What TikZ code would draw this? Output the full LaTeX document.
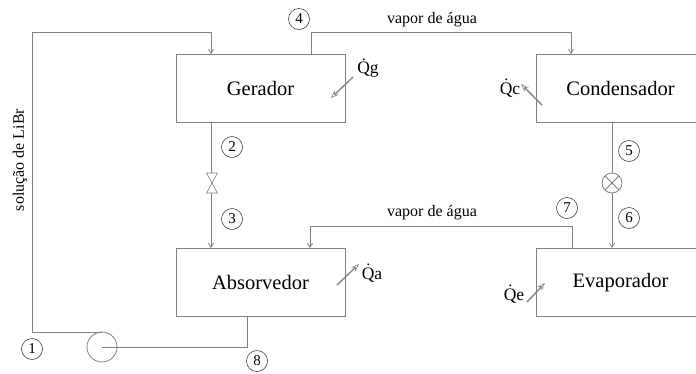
\documentclass[tikz,border=0pt]{standalone}
\usepackage{fontspec}
\setmainfont{Liberation Serif}
\usetikzlibrary{arrows.meta,calc}
\begin{document}
\begin{tikzpicture}[x=1pt,y=-1pt,
  line/.style={draw=black!50, line width=0.8pt},
  box/.style={line, rectangle, minimum width=169pt, minimum height=68pt, inner sep=0pt, outer sep=0pt, font=\fontsize{20.5}{24}\selectfont},
  num/.style={draw=black!75, fill=white, circle, line width=0.6pt, minimum size=21pt, inner sep=0pt, font=\fontsize{15}{18}\selectfont},
  flow/.style={line, -{Straight Barb[length=4pt,width=5pt]}},
  heat/.style={draw=black!45, line width=1.5pt, -{Stealth[open,length=8pt,width=6pt,line width=0.7pt,fill=white]}},
  qlab/.style={font=\fontsize{17.5}{20}\selectfont, inner sep=1pt},
  lab/.style={font=\fontsize{16}{18}\selectfont, inner sep=1pt}]
\useasboundingbox (0,0) rectangle (696,373);
\clip (0,0) rectangle (696,373);

% boxes
\node[box] (ger) at (260.5,88) {Gerador};
\node[box] (con) at (620.5,88) {Condensador};
\node[box] (abs) at (260.5,282.5) {Absorvedor};
\node[box] (eva) at (620.5,282.5) {Evaporador};

% pump
\node[line, circle, minimum size=30pt, inner sep=0pt, outer sep=0pt] (pump) at (102,347) {};

% coordinates
\coordinate (cTL) at (32,32);
\coordinate (g2top) at (211,54);
\coordinate (g2bot) at (211,122);
\coordinate (a3top) at (211,248);
\coordinate (a8) at (247,317);
\coordinate (g4) at (311,54);
\coordinate (v1) at (311,32);
\coordinate (c4) at (571,54);
\coordinate (c5) at (612,122);
\coordinate (e6) at (612,248);
\coordinate (e7) at (572,248);
\coordinate (v2) at (572,226);
\coordinate (a7) at (310,248);
\coordinate (vc) at (212,183);

% connectors
\draw[flow] (pump.north) -| (cTL) -| (g2top);
\draw[line] (pump.center) -| (a8);
\draw[flow] (g2bot) -- (a3top);
\draw[flow] (g4) -- (v1) -| (c4);
\draw[flow] (c5) -- (e6);
\draw[flow] (e7) -- (v2) -| (a7);

% valve (bowtie)
\draw[line, fill=white, line width=0.6pt] (vc) -- +(-5.5,-10) -- +(5.5,-10) -- cycle;
\draw[line, fill=white, line width=0.6pt] (vc) -- +(-5.5,10) -- +(5.5,10) -- cycle;

% expansion valve
\node[line, circle, fill=white, minimum size=20pt, inner sep=0pt, outer sep=0pt] (xv) at (612,183) {};
\draw[line] (xv.north east) -- (xv.south west);
\draw[line] (xv.north west) -- (xv.south east);

% numbers
\node[num] (n1) at (32,349) {1};
\node[num] (n2) at (232,147) {2};
\node[num] (n3) at (232,219) {3};
\node[num] (n4) at (299,19) {4};
\node[num] (n5) at (629,151) {5};
\node[num] (n6) at (629,218) {6};
\node[num] (n7) at (567,208) {7};
\node[num] (n8) at (257,361) {8};

% labels
\node[lab] (vap1) at (432,20) {vapor de água};
\node[lab] (vap2) at (432,213) {vapor de água};
\node[lab, rotate=90] (sol) at (20,160) {solução de LiBr};

% heat
\node[qlab] (qg) at (368,68) {Q̇g};
\node[qlab] (qc) at (510,88) {Q̇c};
\node[qlab] (qa) at (372,273) {Q̇a};
\node[qlab] (qe) at (514,294) {Q̇e};
\coordinate (hg1) at (353,77); \coordinate (hg2) at (331,98);
\coordinate (hc1) at (542,105); \coordinate (hc2) at (521,84);
\coordinate (ha1) at (337,285); \coordinate (ha2) at (359,264);
\coordinate (he1) at (527,302); \coordinate (he2) at (545,283);
\draw[heat] (hg1) -- (hg2);
\draw[heat] (hc1) -- (hc2);
\draw[heat] (ha1) -- (ha2);
\draw[heat] (he1) -- (he2);
\end{tikzpicture}
\end{document}
